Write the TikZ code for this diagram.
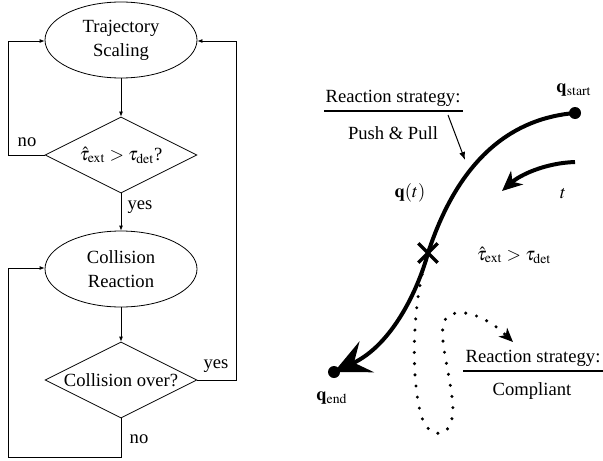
\documentclass[tikz,border=0pt]{standalone}
\usepackage{mathptmx}
\usepackage[no-math]{fontspec}
\setmainfont{Liberation Serif}
\usetikzlibrary{shapes.geometric,shapes.misc,arrows.meta}
\tikzset{
  stateell/.style={draw, ellipse, line width=0.4pt, inner sep=0pt, minimum width=76pt, minimum height=38pt, align=center},
  decision/.style={draw, diamond, line width=0.4pt, inner sep=0pt, minimum width=76pt, minimum height=38pt},
  flow/.style={line width=0.4pt, -{Latex[length=2.5pt,width=2pt]}},
  traj/.style={line width=2pt},
  dotpath/.style={line width=1.7pt, line cap=round, dash pattern=on 0pt off 5.6pt},
  dot/.style={circle, fill, inner sep=0pt, minimum size=6pt},
  uline/.style={line width=0.8pt},
  lbl/.style={inner sep=0pt}
}
\begin{document}
\begin{tikzpicture}[x=0.5pt,y=-0.5pt, font=\fontsize{9.3}{12}\selectfont]
\useasboundingbox (0,0) rectangle (603,460);
% flowchart
\node[stateell] (ts) at (121,40) {Trajectory\\Scaling};
\node[decision] (d1) at (121,155) {\makebox[0pt]{$\hat{\tau}_{\mathrm{ext}} > \tau_{\mathrm{det}}$?}};
\node[stateell] (cr) at (121,269) {Collision\\Reaction};
\node[decision] (d2) at (121,380) {\makebox[0pt]{Collision over?}};
\coordinate (nl1) at (8,155);
\coordinate (nl1t) at (8,41);
\coordinate (yr) at (236,380);
\coordinate (yrt) at (236,41);
\coordinate (nb) at (121,457);
\coordinate (nbl) at (8,457);
\coordinate (nblt) at (8,268);
\draw[flow] (ts) -- (d1);
\draw[flow] (d1) -- (cr);
\draw[flow] (cr) -- (d2);
\draw[flow] (d1.west) -- (nl1) -- (nl1t) -- (nl1t -| ts.west);
\draw[flow] (d2.east) -- (yr) -- (yrt) -- (yrt -| ts.east);
\draw[flow] (d2.south) -- (nb) -- (nbl) -- (nblt) -- (nblt -| cr.west);
\node[lbl] (no1) at (27,142) {no};
\node[lbl] (yes1) at (140,207) {yes};
\node[lbl] (yes2) at (216,366) {yes};
\node[lbl] (no2) at (139,439) {no};
% trajectory
\node[dot] (qs) at (575,113) {};
\node[dot] (qe) at (334,372) {};
\node[lbl] (qsl) at (574,90) {$\mathbf{q}_{\mathrm{start}}$};
\node[lbl] (qel) at (332,398) {$\mathbf{q}_{\mathrm{end}}$};
\node[draw, cross out, line width=1.7pt, inner sep=0pt, minimum size=8pt] (xm) at (428,253) {};
\draw[traj, -{Stealth[length=18pt,width=17pt,inset=7pt]}] (qs.center) .. controls (515,118) and (460,155) .. (xm.center)
  .. controls (418,290) and (392,345) .. (qe.center);
\draw[dotpath, -{Stealth[length=7pt,width=6pt,inset=2pt]}] (xm.center) .. controls (412,300) and (410,380) .. (422,418)
  .. controls (430,440) and (452,440) .. (453,410)
  .. controls (452,380) and (440,345) .. (443,325)
  .. controls (447,305) and (480,310) .. (513,342);
\node[lbl] (qt) at (410,193) {$\mathbf{q}(t)$};
\node[lbl] (tl) at (563,194) {$t$};
\coordinate (ta) at (575,162);
\coordinate (tb) at (502,191);
\draw[traj, -{Stealth[length=10pt,width=9pt,inset=3pt]}] (ta) .. controls (545,163) and (520,175) .. (tb);
\node[lbl] (thr) at (514,255) {$\hat{\tau}_{\mathrm{ext}} > \tau_{\mathrm{det}}$};
% labels
\node[lbl] (rs1) at (393,98) {Reaction strategy:};
\coordinate (u1a) at (324,111);
\coordinate (u1b) at (463,111);
\draw[uline] (u1a) -- (u1b);
\node[lbl] (pp) at (393,133) {Push \& Pull};
\coordinate (pa) at (448,115);
\coordinate (pb) at (465,160);
\draw[line width=0.5pt, -{Latex[length=4pt,width=3pt]}] (pa) -- (pb);
\node[lbl] (rs2) at (533,358) {Reaction strategy:};
\coordinate (u2a) at (463,371);
\coordinate (u2b) at (603,371);
\draw[uline] (u2a) -- (u2b);
\node[lbl] (cp) at (532,391) {Compliant};
\end{tikzpicture}
\end{document}
